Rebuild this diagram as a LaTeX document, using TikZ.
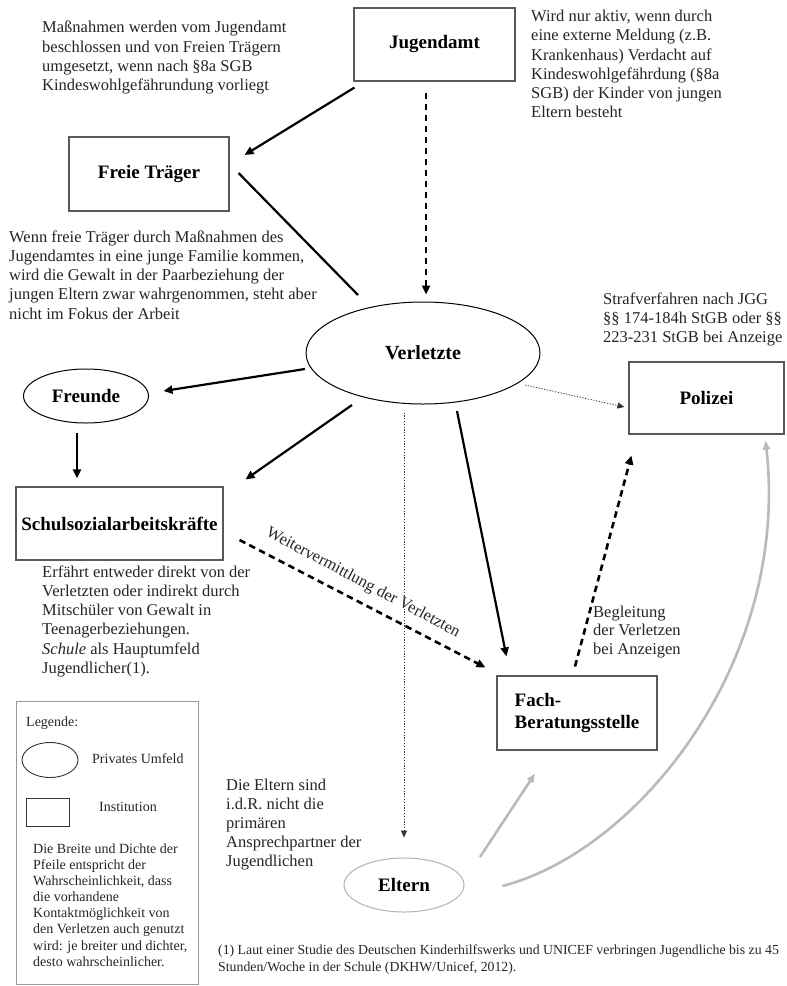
\documentclass[tikz,border=0pt]{standalone}
\usepackage{fontspec}
\setmainfont{Liberation Serif}
\usetikzlibrary{arrows.meta,shapes.geometric}
\tikzset{
  box/.style={draw=black!65, line width=1.1pt, inner sep=0pt, font=\bfseries\fontsize{19}{22.5}\selectfont},
  ell/.style={ellipse, draw=black, line width=1pt, inner sep=0pt, font=\bfseries\fontsize{19}{22.5}\selectfont},
  txt/.style={anchor=north west, inner sep=0pt, align=left, font=\fontsize{16.5}{19.2}\selectfont, text=black!85},
  legtxt/.style={inner sep=0pt, align=left, font=\fontsize{14}{16.1}\selectfont, text=black!85},
  solidarr/.style={line width=2.2pt, -{Triangle[length=9pt,width=8pt]}},
  solidline/.style={line width=2.2pt},
  dasharr/.style={line width=2.6pt, dash pattern=on 6.5pt off 4.5pt, -{Triangle[length=9pt,width=8pt]}},
  dotarr/.style={line width=0.8pt, draw=black!80, dash pattern=on 1.2pt off 1.6pt, -{Triangle[length=7pt,width=6pt]}},
  grayarr/.style={line width=2.6pt, draw=black!27, -{Triangle[length=9pt,width=7pt]}}
}
\begin{document}
\begin{tikzpicture}[x=1pt,y=-1pt]
\useasboundingbox[fill=white] (0,0) rectangle (787,986);

% main nodes
\node[box, minimum width=161pt, minimum height=73pt] (jug) at (434.5,44.5) {Jugendamt};
\node[box, minimum width=160pt, minimum height=74pt] (frei) at (149,174) {Freie Träger};
\node[ell, minimum width=234pt, minimum height=102pt, font=\bfseries\fontsize{20}{24}\selectfont] (verl) at (423,353) {Verletzte};
\node[ell, minimum width=125pt, minimum height=54pt] (freu) at (86,396) {Freunde};
\node[box, minimum width=207pt, minimum height=73pt] (schul) at (119.5,523.5) {Schulsozialarbeitskräfte};
\node[box, minimum width=155pt, minimum height=72pt] (poli) at (706.5,398) {Polizei};
\node[box, minimum width=160pt, minimum height=74pt, align=left] (fach) at (577,713) {Fach-\\Beratungsstelle};
\node[ell, draw=black!30, minimum width=120pt, minimum height=54pt] (elt) at (404,885) {Eltern};

% annotations
\node[txt] (t1) at (42,21) {Maßnahmen werden vom Jugendamt\\beschlossen und von Freien Trägern\\umgesetzt, wenn nach §8a SGB\\Kindeswohlgefährundung vorliegt};
\node[txt] (t2) at (531,10) {Wird nur aktiv, wenn durch\\eine externe Meldung (z.B.\\Krankenhaus) Verdacht auf\\Kindeswohlgefährdung (§8a\\SGB) der Kinder von jungen\\Eltern besteht};
\node[txt] (t3) at (9,230.5) {Wenn freie Träger durch Maßnahmen des\\Jugendamtes in eine junge Familie kommen,\\wird die Gewalt in der Paarbeziehung der\\jungen Eltern zwar wahrgenommen, steht aber\\nicht im Fokus der Arbeit};
\node[txt] (t4) at (603,292.5) {Strafverfahren nach JGG\\§§ 174-184h StGB oder §§\\223-231 StGB bei Anzeige};
\node[txt] (t5) at (42,565.5) {Erfährt entweder direkt von der\\Verletzten oder indirekt durch\\Mitschüler von Gewalt in\\Teenagerbeziehungen.\\\textit{Schule} als Hauptumfeld\\Jugendlicher(1).};
\node[txt, font=\fontsize{16.5}{18.7}\selectfont] (t6) at (593,605.5) {Begleitung\\der Verletzen\\bei Anzeigen};
\node[txt] (t7) at (226,778.5) {Die Eltern sind\\i.d.R. nicht die\\primären\\Ansprechpartner der\\Jugendlichen};
\node[txt, font=\fontsize{13.8}{17}\selectfont] (t8) at (218,945) {(1) Laut einer Studie des Deutschen Kinderhilfswerks und UNICEF verbringen Jugendliche bis zu 45\\Stunden/Woche in der Schule (DKHW/Unicef, 2012).};
\node[inner sep=0pt, font=\fontsize{16.5}{19.2}\selectfont, text=black!85, rotate=-28] (wlab) at (363,583) {Weitervermittlung der Verletzten};

% legend
\draw[draw=black!40, line width=1pt] (16,701) rectangle (198,984);
\node[legtxt, anchor=west] (lg) at (26,723) {Legende:};
\node[ellipse, draw=black!80, line width=0.9pt, minimum width=56pt, minimum height=35pt, inner sep=0pt] (lgell) at (50,760) {};
\node[legtxt, anchor=west] (lgpriv) at (92,759) {Privates Umfeld};
\node[draw=black!80, line width=0.9pt, minimum width=43pt, minimum height=28pt, inner sep=0pt] (lgrect) at (47.5,812) {};
\node[legtxt, anchor=west] (lginst) at (99,807) {Institution};
\node[legtxt, anchor=north west] (lgpar) at (33,843.5) {Die Breite und Dichte der\\Pfeile entspricht der\\Wahrscheinlichkeit, dass\\die vorhandene\\Kontaktmöglichkeit von\\den Verletzen auch genutzt\\wird: je breiter und dichter,\\desto wahrscheinlicher.};

% connectors
\draw[solidarr] ([shift={(1,6)}]jug.south west) -- ([shift={(15,-19)}]frei.east);
\draw[solidline] ([shift={(9,-1)}]frei.east) -- ([shift={(-65,-58)}]verl.center);
\draw[dasharr] ([shift={(-8.5,11)}]jug.south) -- ([shift={(3,-7)}]verl.north);
\draw[solidarr] ([shift={(-118,16)}]verl.center) -- ([shift={(14.5,-5)}]freu.east);
\draw[solidarr] ([shift={(-9,9)}]freu.south) -- ([shift={(-42.5,-8)}]schul.north);
\draw[solidarr] ([shift={(-71,52)}]verl.center) -- ([shift={(22,-7)}]schul.north east);
\draw[dasharr] ([shift={(16,16.5)}]schul.east) -- ([shift={(-11,-8)}]fach.north west);
\draw[solidarr] ([shift={(34,58)}]verl.center) -- ([shift={(10,-19)}]fach.north west);
\draw[dotarr] ([shift={(102,32)}]verl.center) -- ([shift={(-4,9)}]poli.west);
\draw[dotarr] ([shift={(-19,8)}]verl.south) -- ([shift={(0,-20)}]elt.north);
\draw[dasharr] ([shift={(-2,-9)}]fach.north) -- ([shift={(3,21)}]poli.south west);
\draw[grayarr] ([shift={(76,-28)}]elt.center) -- ([shift={(-42,23)}]fach.south);
\draw[grayarr] ([shift={(38,1)}]elt.east) .. controls (640,850) and (790,660) .. ([shift={(-19,6)}]poli.south east);
\end{tikzpicture}
\end{document}
